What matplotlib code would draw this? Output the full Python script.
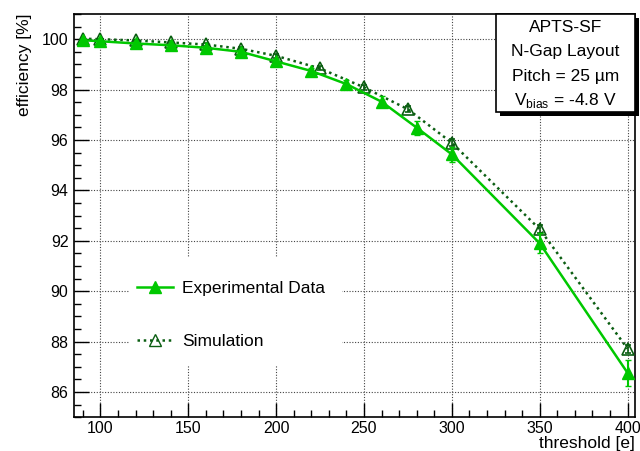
import numpy as np
import matplotlib
matplotlib.use("Agg")
import matplotlib.pyplot as plt
from matplotlib.patches import Rectangle
from matplotlib.lines import Line2D
from matplotlib.ticker import MultipleLocator

plt.rcParams['font.family'] = ['Liberation Sans', 'DejaVu Sans']
plt.rcParams['mathtext.fontset'] = 'custom'
plt.rcParams['mathtext.rm'] = 'Liberation Sans'

# experimental data
exp_thr = [90, 100, 120, 140, 160, 180, 200, 220, 240, 260, 280, 300, 350, 400]
exp_eff = [99.96, 99.92, 99.83, 99.76, 99.66, 99.5, 99.12, 98.74, 98.22, 97.52, 96.49, 95.43, 91.9, 86.76]
exp_err = [0.03, 0.04, 0.05, 0.06, 0.07, 0.08, 0.1, 0.12, 0.15, 0.22, 0.28, 0.3, 0.4, 0.52]

# simulation
sim_thr = [90, 100, 120, 140, 160, 180, 200, 225, 250, 275, 300, 350, 400]
sim_eff = [100.02, 100.0, 99.95, 99.87, 99.79, 99.62, 99.34, 98.84, 98.09, 97.22, 95.89, 92.46, 87.72]
sim_err = [0.02, 0.02, 0.03, 0.04, 0.05, 0.06, 0.07, 0.08, 0.1, 0.12, 0.14, 0.15, 0.15]

box_lines = ["APTS-SF", "N-Gap Layout", "Pitch = 25 \u00b5m", "V$_{\\mathrm{bias}}$ = -4.8 V"]

c_exp = '#00c800'
c_sim = '#0b5e12'
fs = 12.5
tfs = 11.5

W, H = 561, 403.3   # axes size in px
L, B = 74, 417.3    # axes left / bottom in px


def ax_xy(px, py):
    return (px - L) / W, (B - py) / H


fig = plt.figure(figsize=(6.4, 4.51), dpi=100)
ax = fig.add_axes([L/640, 1-B/451, W/640, H/451])

ax.errorbar(exp_thr, exp_eff, yerr=exp_err, color=c_exp, lw=1.8, marker='^', ms=8,
            mfc=c_exp, mec=c_exp, capsize=2, elinewidth=1.5, zorder=4)
ax.errorbar(sim_thr, sim_eff, yerr=sim_err, color=c_sim, lw=1.8, ls=(0, (1, 1.5)), marker='^', ms=8,
            mfc='none', mec=c_sim, mew=1.2, capsize=2, elinewidth=1.2, zorder=3)

ax.set_xlim(85, 404.2)
ax.set_ylim(85, 101)
ax.xaxis.set_major_locator(MultipleLocator(50))
ax.xaxis.set_minor_locator(MultipleLocator(10))
ax.yaxis.set_major_locator(MultipleLocator(2))
ax.yaxis.set_minor_locator(MultipleLocator(0.5))
ax.tick_params(which='both', direction='in', labelsize=tfs, width=1)
ax.tick_params(which='major', length=10, pad=3)
ax.tick_params(which='minor', length=5)
ax.tick_params(axis='y', which='major', length=11, pad=4)
ax.grid(True, which='major', color='#444444', lw=0.8, ls=(0, (1, 1.5)))
for s in ax.spines.values():
    s.set_linewidth(1.2)

ax.set_ylabel('efficiency [%]', fontsize=fs, loc='top', labelpad=7)
ax.text(*ax_xy(635, 443.5), 'threshold [e]', transform=ax.transAxes, ha='right', va='center',
        fontsize=fs, clip_on=False)

# legend on a white patch hiding the grid
lx0, ly0 = ax_xy(130, 366)
lx1, ly1 = ax_xy(342, 258)
ax.add_patch(Rectangle((lx0, ly0), lx1-lx0, ly1-ly0, transform=ax.transAxes,
                       facecolor='white', edgecolor='none', zorder=2.5))
h_exp = Line2D([], [], color=c_exp, lw=1.8, marker='^', ms=8, mfc=c_exp, mec=c_exp)
h_sim = Line2D([], [], color=c_sim, lw=1.8, ls=(0, (1, 1.5)), marker='^', ms=8, mfc='none', mec=c_sim)
leg = ax.legend([h_exp, h_sim], ['Experimental Data', 'Simulation'], loc='upper left',
                bbox_to_anchor=ax_xy(137, 281), borderaxespad=0, borderpad=0,
                fontsize=fs, frameon=False,
                handlelength=2.1, handletextpad=0.5, labelspacing=2.2)
leg.set_zorder(5)

# info box with shadow
x0, y0 = ax_xy(495.7, 111.7)
ax.add_patch(Rectangle((x0+4/W, y0-4/H), 1-x0, 1-y0, transform=ax.transAxes,
                       facecolor='black', edgecolor='none', clip_on=False, zorder=6))
ax.add_patch(Rectangle((x0, y0), 1-x0, 1-y0, transform=ax.transAxes,
                       facecolor='white', edgecolor='black', lw=1.2, clip_on=False, zorder=7))
xc = (x0+1)/2
for txt, py in zip(box_lines, [28, 51.7, 76, 100]):
    ax.text(xc, ax_xy(0, py)[1], txt, transform=ax.transAxes, ha='center', va='center',
            fontsize=fs, zorder=8)

fig.savefig('out.png', dpi=100)
